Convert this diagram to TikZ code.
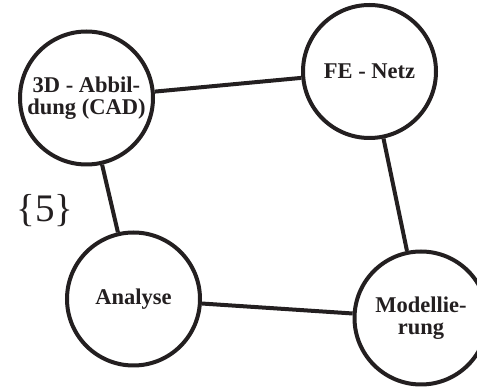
\documentclass[tikz,border=0pt]{standalone}
\usepackage{fontspec}
\setmainfont{Liberation Serif}
\definecolor{ink}{HTML}{231F20}
\begin{document}
\begin{tikzpicture}[x=1pt,y=-1pt,
  bubble/.style={circle,draw=ink,line width=4pt,fill=white,minimum size=133pt,inner sep=0pt,
    align=center,font=\fontsize{22.5}{21.5}\selectfont\bfseries,text=ink},
  link/.style={draw=ink,line width=4pt}]
\useasboundingbox (0,0) rectangle (477,387);
\clip (0,0) rectangle (477,387);
\node[bubble] (cad) at (86.5,98) {3D - Abbil-\\dung (CAD)};
\node[bubble] (fe) at (369.5,71.5) {FE - Netz};
\node[bubble] (an) at (133.5,299) {Analyse};
\node[bubble] (mo) at (421,318) {Modellie-\\rung};
\draw[link] (cad) -- (fe);
\draw[link] (cad) -- (an);
\draw[link] (fe) -- (mo);
\draw[link] (an) -- (mo);
\node[text=ink,font=\fontsize{39}{39}\selectfont] (lbl) at (45,211) {\{5\}};
\end{tikzpicture}
\end{document}
